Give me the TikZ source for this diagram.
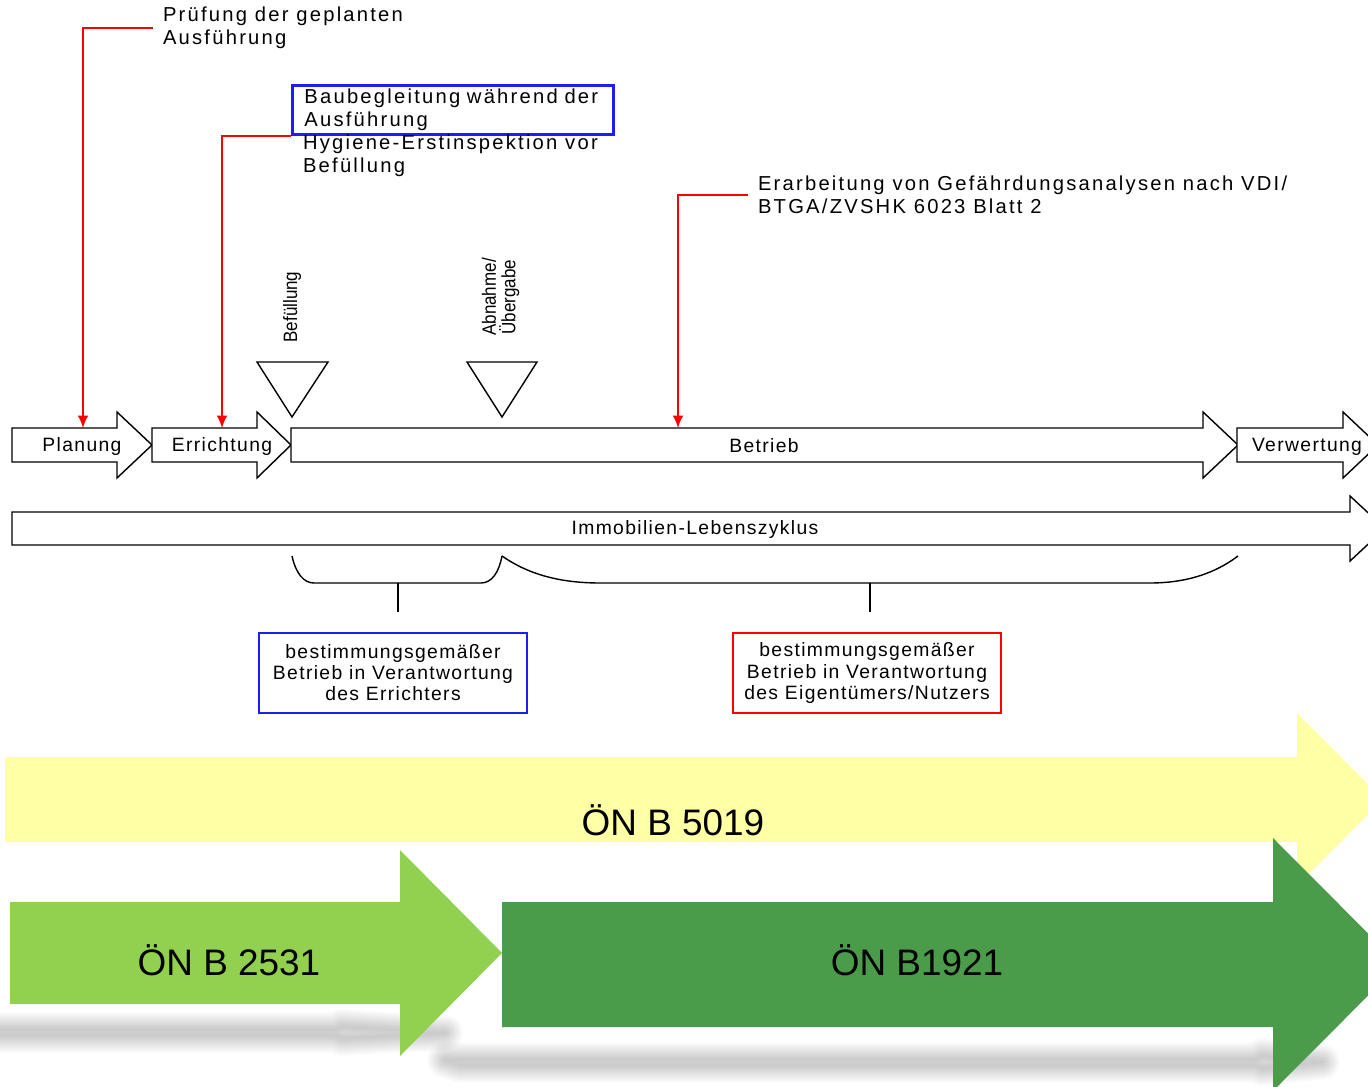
\documentclass[tikz,border=0pt]{standalone}
\usepackage{fontspec}
\setmainfont{Liberation Sans}
\newfontfamily\diafont{Liberation Sans}[LetterSpace=7]
\newfontfamily\notefont{Liberation Sans}[LetterSpace=11]
\usetikzlibrary{arrows.meta,calc}

\definecolor{normyellow}{RGB}{255,255,166}
\definecolor{normlight}{RGB}{146,208,80}
\definecolor{normdark}{RGB}{74,156,74}
\definecolor{boxblue}{RGB}{30,30,240}
\definecolor{linered}{RGB}{255,0,0}

% block arrow: x tail, x head base, x tip, y body top, y body bottom, head overhang
\newcommand{\phasearrow}[7][phase]{%
	\path[#1] (#2,#5) -- (#3,#5) -- (#3,#5-#7) -- (#4,{(#5+#6)/2}) -- (#3,#6+#7) -- (#3,#6) -- (#2,#6) -- cycle;}

\tikzset{
	phase/.style={draw=black, line width=0.8pt, fill=white},
	lbl/.style={font=\diafont\fontsize{11}{13}\selectfont, inner sep=0pt},
	note/.style={font=\notefont\fontsize{11.5}{13}\selectfont, inner sep=0pt, align=left, inner xsep=5.5pt},
	redline/.style={draw=linered, line width=0.9pt, -{Latex[length=7pt,width=6pt]}},
	infobox/.style={lbl, font=\diafont\fontsize{11}{12}\selectfont, line width=1.1pt, align=center, minimum width=5.36cm, minimum height=1.6cm},
	milestone/.style={font=\fontsize{11}{13}\selectfont, rotate=90, inner sep=0pt},
	normtext/.style={font=\fontsize{21}{25}\selectfont, inner sep=0pt, anchor=base},
	brace/.style={line width=0.8pt},
	shade/.style={black, opacity=0.012, line join=round}
}

\begin{document}
\begin{tikzpicture}[x=0.02cm, y=-0.02cm]
	\useasboundingbox (0,0) rectangle (1368,1087);
	\clip (0,0) rectangle (1368,1087);

	% Lebensphasen
	\phasearrow{12}{117}{152}{428}{462}{16}
	\phasearrow{152}{257}{291}{428}{462}{16}
	\phasearrow{291}{1203}{1238}{428}{462}{16}
	\phasearrow{1237}{1343}{1378}{428}{462}{16}
	\node[lbl] (planung) at (82,447) {Planung};
	\node[lbl] (errichtung) at (222,447) {Errichtung};
	\node[lbl] (betrieb) at (764,446) {Betrieb};
	\node[lbl] (verwertung) at (1307,447) {Verwertung};
	\coordinate (planTop) at (83,428);
	\coordinate (errTop) at (222,428);
	\coordinate (betTop) at (678,428);

	% Lebenszyklus
	\phasearrow{12}{1350}{1385}{512}{545}{16}
	\node[lbl] (zyklus) at (695,530) {Immobilien-Lebenszyklus};

	% Meilensteine
	\draw[phase] (257,362) -- (328,362) -- (292,417) -- cycle;
	\draw[phase] (467,362) -- (537,362) -- (502,417) -- cycle;
	\node[milestone] (befLbl) at (292,307) {\scalebox{0.88}[1]{Befüllung}};
	\node[milestone] (abnLbl) at (501,297) {\scalebox{0.88}[1]{\begin{tabular}{@{}c@{}}Abnahme/\\[-2pt]Übergabe\end{tabular}}};

	% Hinweise oben
	\node[note, anchor=west] (pruef) at (153,28) {Prüfung der geplanten\\Ausführung};
	\node[note, anchor=north west, draw=boxblue, line width=1.6pt, inner xsep=0.24cm,
		text width=5.94cm, minimum height=0.98cm] (bau) at (291,84) {Baubegleitung während der\\Ausführung};
	\node[note, anchor=west] (hyg) at (293,156) {Hygiene-Erstinspektion vor\\Befüllung};
	\node[note, anchor=west] (erarb) at (748,195) {Erarbeitung von Gefährdungsanalysen nach VDI/\\BTGA/ZVSHK 6023 Blatt 2};

	\draw[redline] (pruef.west) -| (planTop);
	\draw[redline] (bau.south west) -| (errTop);
	\draw[redline] (erarb.west) -| (betTop);

	% Klammern
	\draw[brace] (292,556) .. controls (296,574) and (304,583) .. (314,583) -- (481,583) .. controls (492,583) and (499,572) .. (502,556);
	\draw[brace] (502,556) .. controls (525,572) and (555,583) .. (600,583) -- (1150,583) .. controls (1195,583) and (1222,568) .. (1238,556);
	\coordinate (brA) at (398,583);
	\coordinate (brAend) at (398,612);
	\coordinate (brB) at (870,583);
	\coordinate (brBend) at (870,612);
	\draw[brace] (brA) -- (brAend);
	\draw[brace] (brB) -- (brBend);

	\node[infobox, draw=boxblue] (errbox) at (393,673) {bestimmungsgemäßer\\Betrieb in Verantwortung\\des Errichters};
	\node[infobox, draw=linered] (eigbox) at (867,673) {bestimmungsgemäßer\\Betrieb in Verantwortung\\des Eigentümers/Nutzers};

	% Schatten
	\def\shadowA{(-20,1030) -- (335,1030) -- (342,1027) -- (445,1033) -- (342,1038) -- (335,1035) -- (-20,1035) -- cycle}
	\def\shadowB{(445,1060) -- (1255,1060) -- (1262,1056) -- (1322,1062) -- (1262,1068) -- (1255,1065) -- (460,1065) -- cycle}
	\foreach \w in {2,4,...,36} {
		\pgfmathsetmacro\lw{\w*0.567}
		\draw[shade, line width=\lw pt] \shadowA;
		\draw[shade, line width=\lw pt] \shadowB;
	}

	% Normen
	\phasearrow[fill=normyellow]{5}{1297}{1383}{757}{842}{44}
	\phasearrow[fill=normlight]{10}{400}{502}{902}{1004}{52}
	\phasearrow[fill=normdark]{502}{1273}{1399}{902}{1027}{64}
	\node[normtext] (oenorm5019) at (673,835) {ÖN B 5019};
	\node[normtext] (oenorm2531) at (229,975) {ÖN B 2531};
	\node[normtext] (oenorm1921) at (917,975) {ÖN B1921};
\end{tikzpicture}
\end{document}
